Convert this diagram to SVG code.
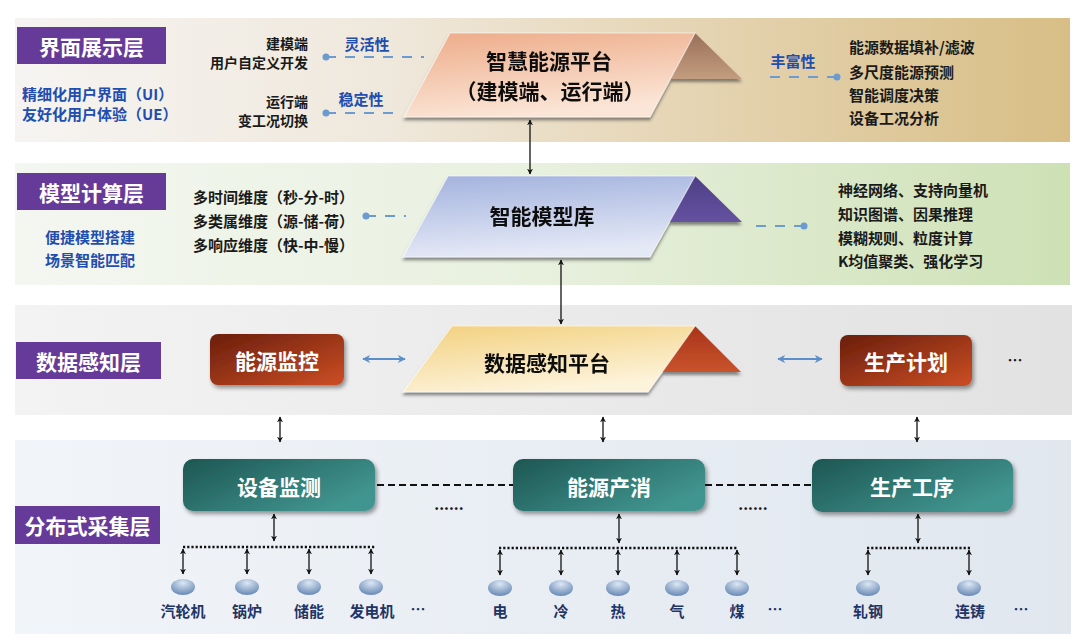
<svg xmlns="http://www.w3.org/2000/svg" width="1080" height="641" viewBox="0 0 1080 641">
<defs>
<style>
text{font-family:"Noto Sans CJK SC","Noto Sans",sans-serif;font-weight:700;dominant-baseline:central;}
.layer{fill:#663a98;}
.lt{fill:#fff;font-size:21px;text-anchor:middle;}
.blue{fill:#1f4db0;font-size:15px;}
.blk{fill:#1a1a1a;font-size:15px;}
.blk14{fill:#1a1a1a;font-size:14px;text-anchor:end;}
.big{fill:#111;font-size:21px;text-anchor:middle;}
.wt{fill:#fff;font-size:21px;text-anchor:middle;}
.sm{fill:#1f3566;font-size:15px;text-anchor:middle;}
.dash{stroke:#6c9bd2;stroke-width:2;stroke-dasharray:10 9;fill:none;}
.dot{fill:#6c9bd2;}
.arr{stroke:#111;stroke-width:1.3;fill:none;marker-start:url(#ah);marker-end:url(#ah);}
.barr{stroke:#5b8fc9;stroke-width:2.2;fill:none;marker-start:url(#bh);marker-end:url(#bh);}
.hd{stroke:#111;stroke-width:2;stroke-dasharray:7 4;fill:none;}
.dotted{stroke:#111;stroke-width:2.5;stroke-dasharray:2.2 2;fill:none;}
.ell{fill:url(#gEll);}
.red{fill:url(#gRed);filter:url(#sh);}
.teal{fill:url(#gTeal);filter:url(#sh);}
</style>
<marker id="ah" viewBox="0 0 10 10" refX="9" refY="5" markerWidth="6" markerHeight="6" markerUnits="userSpaceOnUse" orient="auto-start-reverse"><path d="M0,0 L10,5 L0,10 L3,5 z" fill="#111"/></marker>
<marker id="bh" viewBox="0 0 10 10" refX="9" refY="5" markerWidth="8" markerHeight="8" markerUnits="userSpaceOnUse" orient="auto-start-reverse"><path d="M0,0 L10,5 L0,10 L3,5 z" fill="#5b8fc9"/></marker>
<filter id="sh" x="-10%" y="-20%" width="125%" height="150%"><feDropShadow dx="2" dy="3" stdDeviation="2.2" flood-color="#000" flood-opacity="0.4"/></filter>
<filter id="sh2" x="-10%" y="-20%" width="125%" height="150%"><feDropShadow dx="0" dy="3" stdDeviation="1.6" flood-color="#333" flood-opacity="0.55"/></filter>
<linearGradient id="gB1" x1="0" y1="0" x2="1" y2="0"><stop offset="0" stop-color="#f6f4f2"/><stop offset="0.35" stop-color="#efe8dc"/><stop offset="0.65" stop-color="#e5d4b2"/><stop offset="1" stop-color="#d8be86"/></linearGradient>
<linearGradient id="gB2" x1="0" y1="0" x2="1" y2="0"><stop offset="0" stop-color="#f4f7f1"/><stop offset="0.5" stop-color="#e8f0de"/><stop offset="1" stop-color="#cde1b5"/></linearGradient>
<linearGradient id="gB3" x1="0" y1="0" x2="1" y2="0"><stop offset="0" stop-color="#f3f3f3"/><stop offset="1" stop-color="#e2e2e2"/></linearGradient>
<linearGradient id="gB4" x1="0" y1="0" x2="1" y2="0"><stop offset="0" stop-color="#f1f4f8"/><stop offset="1" stop-color="#e0e7ef"/></linearGradient>
<linearGradient id="gS1" x1="0" y1="0" x2="0.3" y2="1"><stop offset="0" stop-color="#edab88"/><stop offset="1" stop-color="#fbe5d6"/></linearGradient>
<linearGradient id="gT1" x1="0" y1="0" x2="0" y2="1"><stop offset="0" stop-color="#9a7058"/><stop offset="1" stop-color="#c39d80"/></linearGradient>
<linearGradient id="gS2" x1="0" y1="0" x2="0.2" y2="1"><stop offset="0" stop-color="#a3b2de"/><stop offset="1" stop-color="#e4e9f6"/></linearGradient>
<linearGradient id="gT2" x1="0" y1="0" x2="0" y2="1"><stop offset="0" stop-color="#4d3f86"/><stop offset="1" stop-color="#6452a0"/></linearGradient>
<linearGradient id="gS3" x1="0" y1="0" x2="0.4" y2="1"><stop offset="0" stop-color="#f2d07e"/><stop offset="1" stop-color="#fdf3da"/></linearGradient>
<linearGradient id="gT3" x1="0" y1="0" x2="0" y2="1"><stop offset="0" stop-color="#a8341a"/><stop offset="1" stop-color="#c9532b"/></linearGradient>
<linearGradient id="gRed" x1="0" y1="0" x2="1" y2="1"><stop offset="0" stop-color="#6a1e0c"/><stop offset="1" stop-color="#cc4e24"/></linearGradient>
<linearGradient id="gTeal" x1="0" y1="0" x2="1" y2="0.6"><stop offset="0" stop-color="#1d5652"/><stop offset="1" stop-color="#419590"/></linearGradient>
<radialGradient id="gEll" cx="0.5" cy="0.25" r="0.8"><stop offset="0" stop-color="#dce7f4"/><stop offset="1" stop-color="#5f82b0"/></radialGradient>
</defs>

<g id="bands">
<rect x="15" y="18" width="1055" height="124" fill="url(#gB1)"/>
<rect x="15" y="163" width="1055" height="122" fill="url(#gB2)"/>
<rect x="15" y="305" width="1057" height="110" fill="url(#gB3)"/>
<rect x="15" y="440" width="1056" height="194" fill="url(#gB4)"/>
</g>

<g id="layer-ui"><rect class="layer" x="17" y="27" width="149" height="37"/><text class="lt" x="91.5" y="46">界面展示层</text>
<text class="blue" x="22" y="93">精细化用户界面（UI）</text><text class="blue" x="22" y="113">友好化用户体验（UE）</text></g>
<g id="layer-model"><rect class="layer" x="17" y="173" width="149" height="37"/><text class="lt" x="91.5" y="192">模型计算层</text>
<text class="blue" x="90" y="236" text-anchor="middle">便捷模型搭建</text><text class="blue" x="90" y="259" text-anchor="middle">场景智能匹配</text></g>
<g id="layer-data"><rect class="layer" x="16" y="342" width="145" height="37"/><text class="lt" x="88.5" y="361">数据感知层</text></g>
<g id="layer-collect"><rect class="layer" x="15" y="506" width="145" height="38"/><text class="lt" x="87.5" y="525">分布式采集层</text></g>

<g id="ui-notes">
<text class="blk14" x="308" y="43">建模端</text>
<text class="blk14" x="308" y="62">用户自定义开发</text>
<text class="blk14" x="308" y="101">运行端</text>
<text class="blk14" x="308" y="120">变工况切换</text>
<text class="blue" x="367" y="43" text-anchor="middle" fill="#2a5ec8">灵活性</text>
<text class="blue" x="361" y="98" text-anchor="middle" fill="#2a5ec8">稳定性</text>
<text class="blue" x="793" y="60" text-anchor="middle" fill="#2a5ec8">丰富性</text>
<text class="blk" x="849" y="46">能源数据填补/滤波</text>
<text class="blk" x="849" y="71">多尺度能源预测</text>
<text class="blk" x="849" y="94">智能调度决策</text>
<text class="blk" x="849" y="117">设备工况分析</text>
</g>

<g id="model-notes">
<text class="blk" x="193" y="196">多时间维度（秒-分-时）</text>
<text class="blk" x="193" y="220">多类属维度（源-储-荷）</text>
<text class="blk" x="193" y="244">多响应维度（快-中-慢）</text>
<text class="blk" x="838" y="189">神经网络、支持向量机</text>
<text class="blk" x="838" y="213">知识图谱、因果推理</text>
<text class="blk" x="838" y="237">模糊规则、粒度计算</text>
<text class="blk" x="838" y="260">K均值聚类、强化学习</text>
</g>

<g id="platform-smart" filter="url(#sh2)">
<polygon points="695,33 742,79 665,79" fill="url(#gT1)"/>
<polygon points="450,33 695,33 650,117 404,117" fill="url(#gS1)" stroke="#fff" stroke-opacity="0.6" stroke-width="1.2"/>
<text class="big" x="549" y="60">智慧能源平台</text>
<text class="big" x="550" y="90">（建模端、运行端）</text>
</g>

<g id="model-library" filter="url(#sh2)">
<polygon points="695,176 742,222 665,222" fill="url(#gT2)"/>
<polygon points="448,176 695,176 650,257 403,257" fill="url(#gS2)" stroke="#fff" stroke-opacity="0.6" stroke-width="1.2"/>
<text class="big" x="542" y="215">智能模型库</text>
</g>

<g id="data-platform" filter="url(#sh2)">
<polygon points="695,326 741,372 660,372" fill="url(#gT3)"/>
<polygon points="452,326 695,326 648,392 403,392" fill="url(#gS3)" stroke="#fff" stroke-opacity="0.6" stroke-width="1.2"/>
<text class="big" x="547" y="362">数据感知平台</text>
</g>

<g id="energy-monitor"><rect class="red" x="210" y="334" width="134" height="51" rx="8"/><text class="wt" x="277" y="360">能源监控</text></g>
<g id="production-plan"><rect class="red" x="840" y="335" width="132" height="51" rx="8"/><text class="wt" x="906" y="361">生产计划</text></g>
<text class="blk" x="1015" y="359" text-anchor="middle">…</text>

<g id="device-monitor"><rect class="teal" x="183" y="459" width="192" height="52" rx="10"/><text class="wt" x="279" y="486">设备监测</text></g>
<g id="energy-prodcons"><rect class="teal" x="513" y="459" width="192" height="52" rx="10"/><text class="wt" x="609" y="486">能源产消</text></g>
<g id="production-process"><rect class="teal" x="812" y="459" width="201" height="53" rx="10"/><text class="wt" x="912" y="486">生产工序</text></g>

<g id="connectors">
<line class="dash" x1="326" y1="57" x2="424" y2="57"/><circle class="dot" cx="326" cy="57" r="3.5"/>
<line class="dash" x1="326" y1="113" x2="398" y2="113"/><circle class="dot" cx="326" cy="113" r="3.5"/>
<line class="dash" x1="837" y1="77" x2="770" y2="77"/><circle class="dot" cx="837" cy="77" r="3.5"/>
<line class="dash" x1="366" y1="216" x2="406" y2="216"/><circle class="dot" cx="366" cy="216" r="3.5"/>
<line class="dash" x1="804" y1="226" x2="756" y2="226"/><circle class="dot" cx="804" cy="226" r="3.5"/>
<line class="arr" x1="530" y1="120" x2="530" y2="174"/>
<line class="arr" x1="561" y1="260" x2="561" y2="324"/>
<line class="barr" x1="363" y1="359" x2="405" y2="359"/>
<line class="barr" x1="778" y1="359" x2="822" y2="359"/>
<line class="arr" x1="280" y1="417" x2="280" y2="442"/>
<line class="arr" x1="603" y1="417" x2="603" y2="442"/>
<line class="arr" x1="917" y1="417" x2="917" y2="442"/>
<line class="hd" x1="377" y1="485" x2="513" y2="485"/>
<line class="hd" x1="705" y1="485" x2="812" y2="485"/>
<line class="arr" x1="274" y1="514" x2="274" y2="541"/>
<line class="arr" x1="619" y1="514" x2="619" y2="543"/>
<line class="arr" x1="918" y1="514" x2="918" y2="543"/>
<line class="dotted" x1="183" y1="547" x2="376" y2="547"/>
<line class="dotted" x1="499" y1="548" x2="738" y2="548"/>
<line class="dotted" x1="867" y1="548" x2="970" y2="548"/>
<line class="arr" x1="183" y1="549" x2="183" y2="574"/>
<line class="arr" x1="247" y1="549" x2="247" y2="574"/>
<line class="arr" x1="309" y1="549" x2="309" y2="574"/>
<line class="arr" x1="371" y1="549" x2="371" y2="574"/>
<line class="arr" x1="500" y1="550" x2="500" y2="575"/>
<line class="arr" x1="561" y1="550" x2="561" y2="575"/>
<line class="arr" x1="618" y1="550" x2="618" y2="575"/>
<line class="arr" x1="677" y1="550" x2="677" y2="575"/>
<line class="arr" x1="737" y1="550" x2="737" y2="575"/>
<line class="arr" x1="868" y1="550" x2="868" y2="575"/>
<line class="arr" x1="969" y1="550" x2="969" y2="575"/>
</g>

<g id="gaps">
<text class="blk" x="449" y="503" text-anchor="middle" font-size="14">......</text>
<text class="blk" x="753" y="503" text-anchor="middle" font-size="14">......</text>
</g>

<g id="dev-turbine"><ellipse class="ell" cx="183" cy="587" rx="12" ry="8"/><text class="sm" x="183" y="610">汽轮机</text></g>
<g id="dev-boiler"><ellipse class="ell" cx="247" cy="587" rx="12" ry="8"/><text class="sm" x="247" y="610">锅炉</text></g>
<g id="dev-storage"><ellipse class="ell" cx="309" cy="587" rx="12" ry="8"/><text class="sm" x="309" y="610">储能</text></g>
<g id="dev-generator"><ellipse class="ell" cx="371" cy="587" rx="12" ry="8"/><text class="sm" x="372" y="610">发电机</text></g>
<text class="sm" x="418" y="608">…</text>
<g id="en-elec"><ellipse class="ell" cx="500" cy="588" rx="12" ry="8"/><text class="sm" x="500" y="610">电</text></g>
<g id="en-cold"><ellipse class="ell" cx="561" cy="588" rx="12" ry="8"/><text class="sm" x="561" y="610">冷</text></g>
<g id="en-heat"><ellipse class="ell" cx="618" cy="588" rx="12" ry="8"/><text class="sm" x="618" y="610">热</text></g>
<g id="en-gas"><ellipse class="ell" cx="677" cy="588" rx="12" ry="8"/><text class="sm" x="677" y="610">气</text></g>
<g id="en-coal"><ellipse class="ell" cx="737" cy="588" rx="12" ry="8"/><text class="sm" x="737" y="610">煤</text></g>
<text class="sm" x="775" y="608">…</text>
<g id="proc-rolling"><ellipse class="ell" cx="868" cy="588" rx="12" ry="8"/><text class="sm" x="868" y="610">轧钢</text></g>
<g id="proc-casting"><ellipse class="ell" cx="969" cy="588" rx="12" ry="8"/><text class="sm" x="970" y="610">连铸</text></g>
<text class="sm" x="1021" y="608">…</text>
</svg>
